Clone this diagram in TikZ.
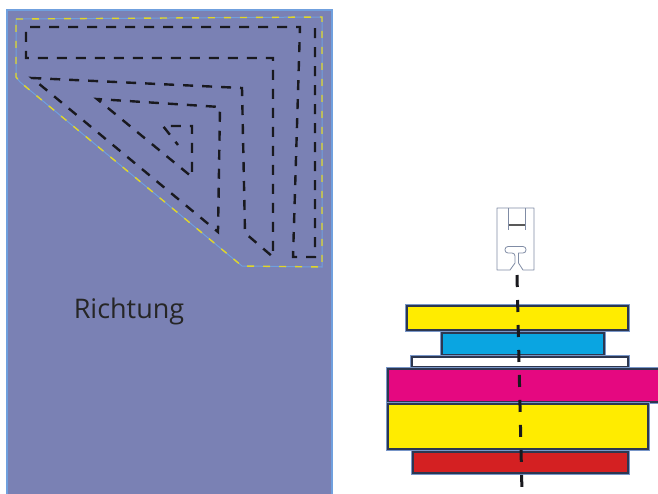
\documentclass[tikz,border=0pt]{standalone}
\usepackage{fontspec}
\setmainfont{Open Sans}
\usepackage{tikz}
\usetikzlibrary{calc}
\usepackage{xcolor}
\definecolor{panelblue}{RGB}{122,129,180}
\definecolor{edgeblue}{RGB}{112,160,222}
\definecolor{seamyellow}{RGB}{226,214,40}
\definecolor{stitch}{RGB}{25,25,30}
\definecolor{layeredge}{RGB}{45,55,80}
\definecolor{layerglow}{RGB}{120,150,200}
\definecolor{quiltyellow}{RGB}{255,236,0}
\definecolor{quiltblue}{RGB}{10,165,225}
\definecolor{quiltpink}{RGB}{229,8,128}
\definecolor{quiltred}{RGB}{212,32,34}
\definecolor{footline}{RGB}{128,140,165}

\tikzset{
  layer/.style={fill=#1,draw=layeredge,line width=1.4pt,
    preaction={draw=layerglow,line width=3.6pt}},
  quilting/.style={draw=stitch,line width=2.4pt,dash pattern=on 10pt off 9pt,line join=miter},
}

\begin{document}
\begin{tikzpicture}[x=1pt,y=-1pt]
  \useasboundingbox (0,0) rectangle (658,493);
  \fill[white] (0,0) rectangle (658,493);
  \draw[fill=panelblue,draw=edgeblue,line width=1.5pt] (7,10) rectangle (332,495);
  \draw[edgeblue,line width=1pt] (16,19)--(322,17)--(322,267)--(242,266)--(20,82)--(16,77)--cycle;
  \draw[seamyellow,line width=1.4pt,dash pattern=on 7pt off 9pt] (16,19)--(322,17)--(322,267)--(242,266)--(20,82)--(16,77)--cycle;
  \draw[quilting] (315,28)--(315,257)--(293,257)--(300,27)--(26,27)--(26,58)--(273,58)--(273,257)--(245,233)--(242,88)--(32,78)--(218,232)--(220,107)--(97,99)--(192,177)--(192,126)--(163,126)--(178,145);
  \node[anchor=base,font=\fontsize{27}{30}\selectfont,text=black!85] (richtung) at (129,318) {Richtung};

  \draw[footline,line width=0.8pt,line join=round] (497,208)--(534,208)--(534,270)--(523,270)--(518.5,263)--(518.5,253) [rounded corners=3pt]--(526,253)--(526,246.5)--(505,246.5)--(505,253)--(515,253) [sharp corners]--(515,263)--(510,270)--(497,270)--cycle;
  \draw[footline,line width=0.8pt] (508.5,208)--(508.5,230) (525,208)--(525,230);
  \draw[black!65,line width=1.8pt] (508.5,225)--(525,225);

  \draw[layer=quiltyellow] (407,306) rectangle (628,330);
  \draw[layer=quiltblue] (442,333) rectangle (604,355);
  \draw[layer=white] (412,357) rectangle (628,367);
  \draw[layer=quiltpink] (388,369) rectangle (664,402);
  \draw[layer=quiltyellow] (388,404) rectangle (648,449);
  \draw[layer=quiltred] (413,452) rectangle (628,473);
  \draw[stitch,line width=3pt,dash pattern=on 12pt off 13pt] (517,275)--(522,493);
\end{tikzpicture}
\end{document}
